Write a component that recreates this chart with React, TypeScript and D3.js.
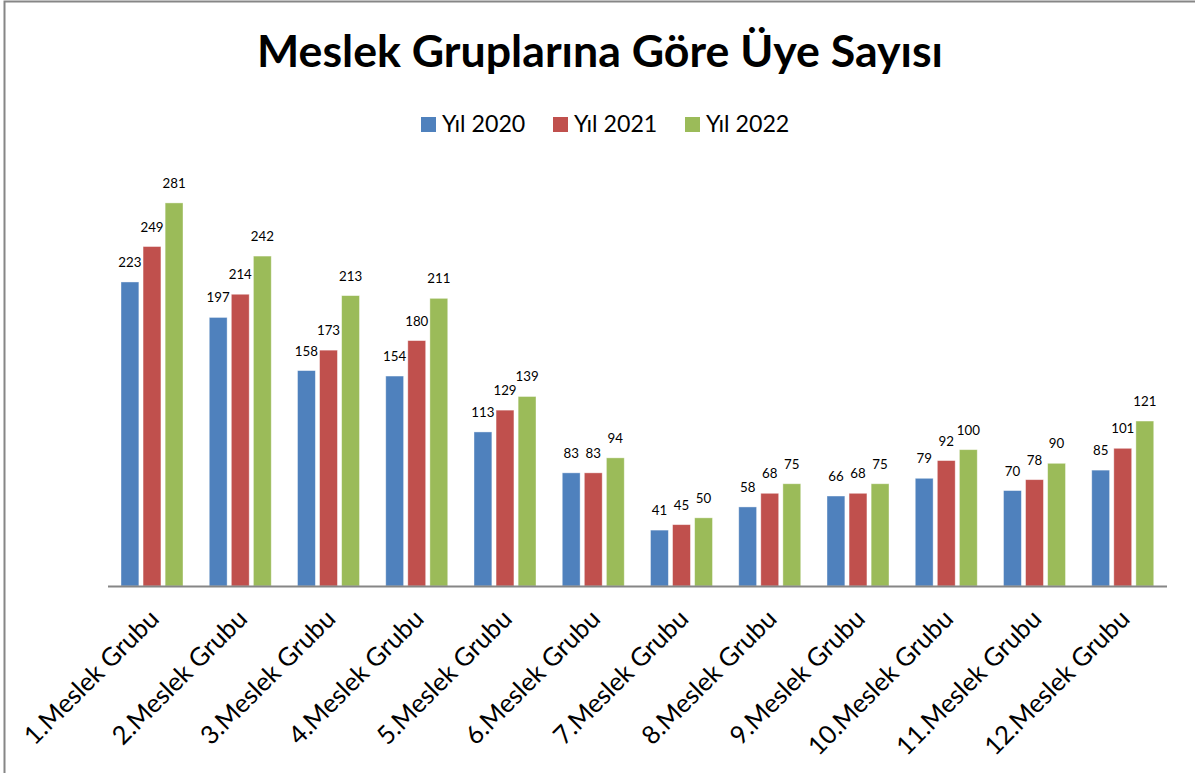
import React from "react";
import * as d3 from "d3";

const categories = [
  "1.Meslek Grubu", "2.Meslek Grubu", "3.Meslek Grubu", "4.Meslek Grubu",
  "5.Meslek Grubu", "6.Meslek Grubu", "7.Meslek Grubu", "8.Meslek Grubu",
  "9.Meslek Grubu", "10.Meslek Grubu", "11.Meslek Grubu", "12.Meslek Grubu",
];
const seriesNames = ["Yıl 2020", "Yıl 2021", "Yıl 2022"];
const y2020 = [223, 197, 158, 154, 113, 83, 41, 58, 66, 79, 70, 85];
const y2021 = [249, 214, 173, 180, 129, 83, 45, 68, 68, 92, 78, 101];
const y2022 = [281, 242, 213, 211, 139, 94, 50, 75, 75, 100, 90, 121];
const colors = ["#4F81BD", "#C0504D", "#9BBB59"];
const title = "Meslek Gruplarına Göre Üye Sayısı";

const W = 1195;
const H = 773;
const FONT = "Lato, 'Open Sans', sans-serif";

export default function App() {
  const series = [y2020, y2021, y2022];
  const x = d3.scaleBand<string>().domain(categories).range([108, 1167]).paddingInner(0).paddingOuter(0);
  const inner = d3.scaleBand<number>().domain([0, 1, 2]).range([13, 75]).paddingInner(0.19);
  const y = d3.scaleLinear().domain([0, 300]).range([586, 177]);
  const legendX = [421, 553, 685];

  return (
    <svg width={W} height={H} style={{ position: "absolute", left: 0, top: 0, background: "#fff" }} fontFamily={FONT}>
      <rect x={0} y={0} width={W} height={H} fill="#fff" />
      <rect x={4.5} y={1.5} width={1300} height={900} fill="none" stroke="#868686" strokeWidth={2} />
      <text x={600} y={67} textAnchor="middle" fontSize={44.7} fontWeight={700} fill="#000">{title}</text>
      {seriesNames.map((n, i) => (
        <g key={n}>
          <rect x={legendX[i]} y={117} width={15} height={15} fill={colors[i]} />
          <text x={legendX[i] + 21} y={132} fontSize={23.2} fill="#000">{n}</text>
        </g>
      ))}
      {categories.map((c, ci) => (
        <g key={c}>
          {series.map((s, si) => {
            const bx = (x(c) as number) + (inner(si) as number);
            const bw = inner.bandwidth();
            const v = s[ci];
            return (
              <g key={si}>
                <rect x={bx} y={y(v)} width={bw} height={y(0) - y(v)} fill={colors[si]} stroke="#ffffff" strokeOpacity={0.5} strokeWidth={0.8} />
                <text x={bx + bw / 2} y={y(v) - 15} textAnchor="middle" fontSize={13.3} fill="#000">{v}</text>
              </g>
            );
          })}
        </g>
      ))}
      <line x1={108} x2={1167} y1={586.5} y2={586.5} stroke="#868686" strokeWidth={2} />
      {categories.map((c) => {
        const cx = (x(c) as number) + x.bandwidth() / 2;
        return (
          <text key={c} transform={`translate(${cx + 2},${614}) rotate(-45)`} textAnchor="end" fontSize={25.5} fill="#000" dy="0.35em">{c}</text>
        );
      })}
    </svg>
  );
}
